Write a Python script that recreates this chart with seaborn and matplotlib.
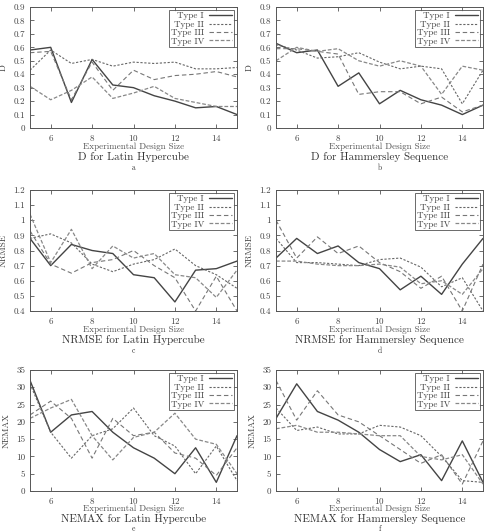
import numpy as np
import pandas as pd
import matplotlib
matplotlib.use("Agg")
import matplotlib.pyplot as plt
import seaborn as sns

sizes = [5, 6, 7, 8, 9, 10, 11, 12, 13, 14, 15]
types = ["Type I", "Type II", "Type III", "Type IV"]

# D, Latin Hypercube
d_lh_1 = [0.58, 0.60, 0.19, 0.51, 0.32, 0.30, 0.24, 0.20, 0.15, 0.16, 0.10]
d_lh_2 = [0.43, 0.58, 0.48, 0.51, 0.46, 0.49, 0.48, 0.49, 0.44, 0.44, 0.45]
d_lh_3 = [0.56, 0.57, 0.21, 0.49, 0.28, 0.43, 0.36, 0.39, 0.40, 0.42, 0.38]
d_lh_4 = [0.31, 0.21, 0.28, 0.38, 0.22, 0.26, 0.31, 0.22, 0.19, 0.16, 0.16]

# D, Hammersley
d_hs_1 = [0.63, 0.56, 0.58, 0.31, 0.41, 0.18, 0.28, 0.21, 0.17, 0.10, 0.17]
d_hs_2 = [0.62, 0.58, 0.52, 0.53, 0.56, 0.49, 0.44, 0.46, 0.44, 0.18, 0.43]
d_hs_3 = [0.59, 0.59, 0.57, 0.55, 0.25, 0.27, 0.27, 0.18, 0.23, 0.12, 0.17]
d_hs_4 = [0.50, 0.60, 0.57, 0.59, 0.50, 0.46, 0.50, 0.46, 0.25, 0.46, 0.43]

# NRMSE, Latin Hypercube
n_lh_1 = [0.88, 0.70, 0.84, 0.80, 0.78, 0.64, 0.62, 0.46, 0.67, 0.68, 0.73]
n_lh_2 = [0.88, 0.91, 0.85, 0.71, 0.66, 0.71, 0.74, 0.81, 0.70, 0.64, 0.55]
n_lh_3 = [0.93, 0.71, 0.65, 0.72, 0.74, 0.80, 0.70, 0.62, 0.40, 0.63, 0.40]
n_lh_4 = [1.04, 0.72, 0.94, 0.68, 0.83, 0.75, 0.78, 0.64, 0.62, 0.49, 0.67]

# NRMSE, Hammersley
n_hs_1 = [0.75, 0.88, 0.78, 0.83, 0.72, 0.68, 0.54, 0.63, 0.51, 0.71, 0.88]
n_hs_2 = [0.88, 0.72, 0.72, 0.71, 0.70, 0.74, 0.75, 0.69, 0.56, 0.62, 0.40]
n_hs_3 = [1.00, 0.75, 0.89, 0.78, 0.83, 0.72, 0.66, 0.55, 0.63, 0.40, 0.71]
n_hs_4 = [0.73, 0.73, 0.71, 0.70, 0.70, 0.71, 0.69, 0.58, 0.60, 0.51, 0.68]

# NEMAX, Latin Hypercube
e_lh_1 = [32, 17, 22, 23, 17, 12.5, 9.5, 5, 12.5, 2.5, 16]
e_lh_2 = [31, 17, 9.5, 16, 18, 24, 16, 13, 5, 13, 3]
e_lh_3 = [22, 26, 21, 9.5, 21, 16, 17, 11, 9.5, 4.5, 12.5]
e_lh_4 = [21, 24, 26.5, 16, 9, 15.5, 17, 22.5, 15, 13.5, 5]

# NEMAX, Hammersley
e_hs_1 = [21, 31, 23, 20.5, 17, 12, 8.5, 10.5, 3, 14.5, 2.5]
e_hs_2 = [24, 17.5, 18.5, 16.5, 16.5, 19, 18.5, 16, 10, 3, 2.5]
e_hs_3 = [32, 20.5, 29, 22, 20, 16, 12, 8, 10.5, 2, 14.5]
e_hs_4 = [18, 19, 17, 17, 16.5, 16, 16, 10, 9, 10.5, 2]

panels = [
    ("D", "D for Latin Hypercube", "a", [d_lh_1, d_lh_2, d_lh_3, d_lh_4], (0, 0.9), np.arange(0, 0.91, 0.1)),
    ("D", "D for Hammersley Sequence", "b", [d_hs_1, d_hs_2, d_hs_3, d_hs_4], (0, 0.9), np.arange(0, 0.91, 0.1)),
    ("NRMSE", "NRMSE for Latin Hypercube", "c", [n_lh_1, n_lh_2, n_lh_3, n_lh_4], (0.4, 1.2), np.arange(0.4, 1.21, 0.1)),
    ("NRMSE", "NRMSE for Hammersley Sequence", "d", [n_hs_1, n_hs_2, n_hs_3, n_hs_4], (0.4, 1.2), np.arange(0.4, 1.21, 0.1)),
    ("NEMAX", "NEMAX for Latin Hypercube", "e", [e_lh_1, e_lh_2, e_lh_3, e_lh_4], (0, 35), np.arange(0, 36, 5)),
    ("NEMAX", "NEMAX for Hammersley Sequence", "f", [e_hs_1, e_hs_2, e_hs_3, e_hs_4], (0, 35), np.arange(0, 36, 5)),
]

sns.set_style("ticks")
plt.rcParams["font.family"] = ["cmr10", "DejaVu Serif"]
plt.rcParams["axes.formatter.use_mathtext"] = True

styles = [
    dict(color="#444444", linestyle="-", linewidth=1.0),
    dict(color="#666666", linestyle=(0, (2, 1.5)), linewidth=0.8),
    dict(color="#777777", linestyle=(0, (4, 2.5)), linewidth=0.8),
    dict(color="#888888", linestyle=(0, (3, 1.5)), linewidth=0.9),
]

fig = plt.figure(figsize=(4.85, 5.32), dpi=100)
W, H = 485, 532
col_left = [30, 276]
col_w = [207, 207]
row_top = [7, 190, 370]
ax_h = 121


def px(p):
    return p * 72 / 100


for i, (ylab, title, letter, series, ylim, yticks) in enumerate(panels):
    r, c = divmod(i, 2)
    left = col_left[c] / W
    bottom = 1 - (row_top[r] + ax_h) / H
    ax = fig.add_axes([left, bottom, col_w[c] / W, ax_h / H])
    df = pd.DataFrame({"size": sizes * 4,
                       "value": sum(series, []),
                       "type": np.repeat(types, len(sizes))})
    for t, st in zip(types, styles):
        sns.lineplot(data=df[df["type"] == t], x="size", y="value", ax=ax,
                     label=t, **st)
    ax.set_xlim(5, 15)
    ax.set_ylim(*ylim)
    ax.set_xticks([6, 8, 10, 12, 14])
    ax.set_yticks(yticks)
    yt = np.round(yticks, 1)
    ax.set_yticklabels([f"{v:g}" for v in yt])
    ax.tick_params(direction="in", top=True, right=True, labelsize=6.5,
                   length=3, width=0.6, colors="#555555", labelcolor="#444444")
    for s in ax.spines.values():
        s.set_linewidth(0.7)
        s.set_color("#555555")
    ax.set_xlabel("")
    ax.set_ylabel(ylab, fontsize=6.5, color="#444444", labelpad=4)

    # offsets (px below the axes) for xlabel, caption and letter
    if r < 2:
        offs = (19, 29, 40)
    else:
        offs = (18, 27.5, 37.5)
    ax.annotate("Experimental Design Size", xy=(0.5, 0), xycoords="axes fraction",
                xytext=(0, -px(offs[0])), textcoords="offset points",
                ha="center", va="center", fontsize=6.5, color="#555555")
    ax.annotate(title, xy=(0.5, 0), xycoords="axes fraction",
                xytext=(0, -px(offs[1])), textcoords="offset points",
                ha="center", va="center", fontsize=8, color="#333333")
    ax.annotate(letter, xy=(0.5, 0), xycoords="axes fraction",
                xytext=(0, -px(offs[2])), textcoords="offset points",
                ha="center", va="center", fontsize=5.5, color="#333333")
    leg = ax.legend(loc="upper right", markerfirst=False, fontsize=6.5,
                    frameon=True, fancybox=False, handlelength=2.6,
                    borderpad=0.2, labelspacing=0.0, handletextpad=0.5,
                    borderaxespad=0.35)
    leg.get_frame().set_edgecolor("#444444")
    leg.get_frame().set_linewidth(0.7)
    for txt in leg.get_texts():
        txt.set_color("#444444")

fig.savefig("out.png", dpi=100)
